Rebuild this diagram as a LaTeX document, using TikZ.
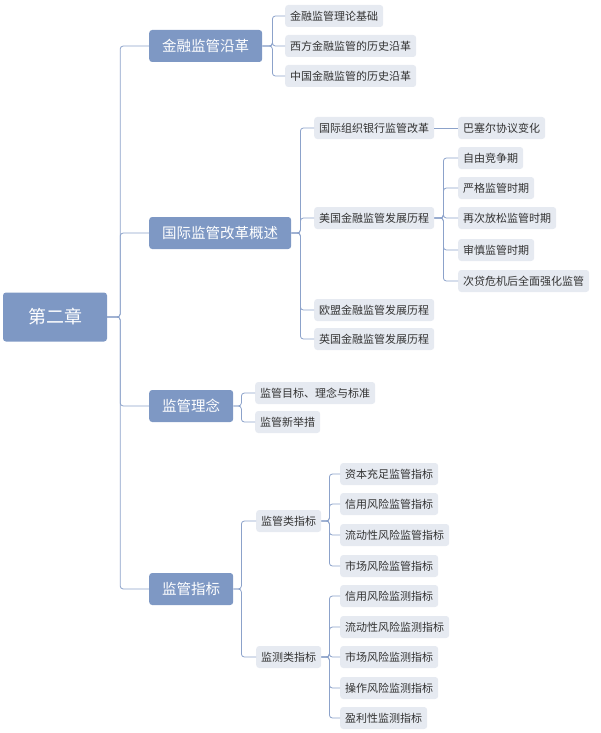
\documentclass[tikz,border=0pt]{standalone}
\usepackage{fontspec}
\setmainfont{Noto Sans CJK SC}
\definecolor{mainblue}{HTML}{7E98C4}
\definecolor{subfill}{HTML}{E6EAF1}
\definecolor{linkblue}{HTML}{8CA2CA}
\tikzset{
  root/.style={fill=mainblue, text=white, rounded corners=3pt, minimum width=104pt, minimum height=49pt, font=\fontsize{18}{20}\selectfont},
  topic/.style={fill=mainblue, text=white, rounded corners=3pt, minimum height=32pt, inner xsep=13pt, anchor=west, font=\fontsize{14.5}{16}\selectfont},
  leaf/.style={fill=subfill, text=black!80, rounded corners=3pt, minimum height=22pt, inner xsep=5pt, anchor=west, font=\fontsize{11}{13}\selectfont},
  link/.style={draw=linkblue, line width=0.8pt, rounded corners=3pt}
}
\begin{document}
\begin{tikzpicture}[x=1pt, y=-1pt]
\useasboundingbox (0,0) rectangle (600,733);
\node[root] (root) at (55,317) {第二章};

\node[topic] (t1) at (149,46) {金融监管沿革};
\node[topic] (t2) at (149,233) {国际监管改革概述};
\node[topic] (t3) at (149,406) {监管理念};
\node[topic] (t4) at (149,589) {监管指标};

\node[leaf] (a1) at (285,16) {金融监管理论基础};
\node[leaf] (a2) at (285,46) {西方金融监管的历史沿革};
\node[leaf] (a3) at (285,76) {中国金融监管的历史沿革};

\node[leaf] (b1) at (314,128) {国际组织银行监管改革};
\node[leaf] (b2) at (314,218) {美国金融监管发展历程};
\node[leaf] (b3) at (314,310) {欧盟金融监管发展历程};
\node[leaf] (b4) at (314,339) {英国金融监管发展历程};
\node[leaf] (b11) at (458,128) {巴塞尔协议变化};
\node[leaf] (b21) at (458,158) {自由竞争期};
\node[leaf] (b22) at (458,188) {严格监管时期};
\node[leaf] (b23) at (458,218) {再次放松监管时期};
\node[leaf] (b24) at (458,250) {审慎监管时期};
\node[leaf] (b25) at (458,281) {次贷危机后全面强化监管};

\node[leaf] (c1) at (255,393) {监管目标、理念与标准};
\node[leaf] (c2) at (255,422) {监管新举措};

\node[leaf] (d1) at (256,521) {监管类指标};
\node[leaf] (d2) at (256,657) {监测类指标};
\node[leaf] (d11) at (340,474) {资本充足监管指标};
\node[leaf] (d12) at (340,504) {信用风险监管指标};
\node[leaf] (d13) at (340,535) {流动性风险监管指标};
\node[leaf] (d14) at (340,566) {市场风险监管指标};
\node[leaf] (d21) at (340,596) {信用风险监测指标};
\node[leaf] (d22) at (340,627) {流动性风险监测指标};
\node[leaf] (d23) at (340,657) {市场风险监测指标};
\node[leaf] (d24) at (340,688) {操作风险监测指标};
\node[leaf] (d25) at (340,718) {盈利性监测指标};

% connectors
\foreach \c in {t1,t2,t3,t4} \draw[link] (root.east) -- ++(13,0) |- (\c.west);
\foreach \c in {a1,a2,a3} \draw[link] (t1.east) -- ++(10,0) |- (\c.west);
\foreach \c in {b1,b2,b3,b4} \draw[link] (t2.east) -- ++(9,0) |- (\c.west);
\draw[link] (b1.east) -- (b11.west);
\foreach \c in {b21,b22,b23,b24,b25} \draw[link] (b2.east) -- ++(9,0) |- (\c.west);
\foreach \c in {c1,c2} \draw[link] (t3.east) -- ++(8,0) |- (\c.west);
\foreach \c in {d1,d2} \draw[link] (t4.east) -- ++(8,0) |- (\c.west);
\foreach \c in {d11,d12,d13,d14} \draw[link] (d1.east) -- ++(8,0) |- (\c.west);
\foreach \c in {d21,d22,d23,d24,d25} \draw[link] (d2.east) -- ++(8,0) |- (\c.west);
\end{tikzpicture}
\end{document}
